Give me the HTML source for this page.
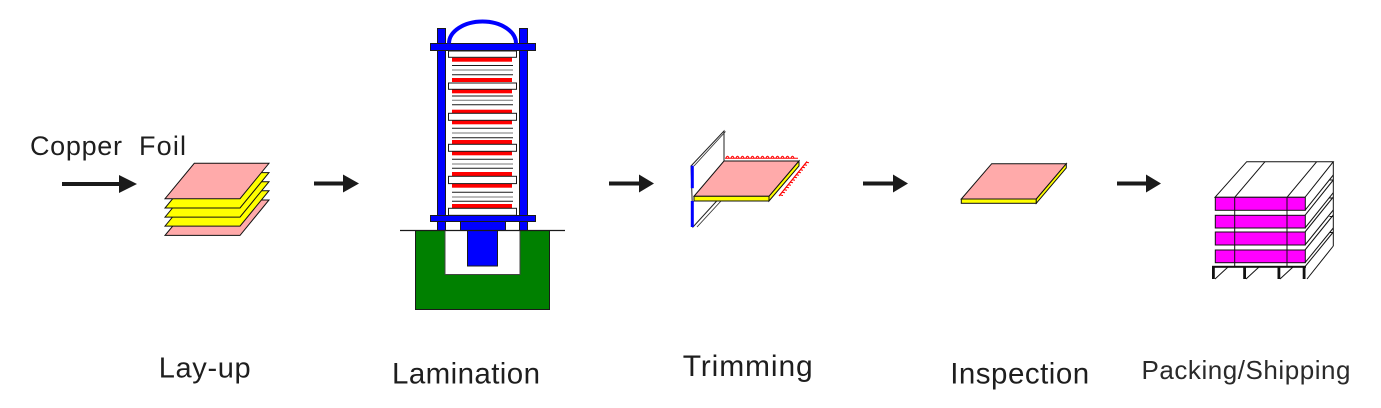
<!DOCTYPE html>
<html>
<head>
<meta charset="utf-8">
<style>
html,body{margin:0;padding:0;background:#fff;}
svg{display:block;}
text{font-family:"Liberation Sans", Arial, sans-serif;fill:#1e1e1e;}
</style>
</head>
<body>
<svg width="1381" height="408" viewBox="0 0 1381 408" xmlns="http://www.w3.org/2000/svg">
<rect width="1381" height="408" fill="#fff"/>

<!-- Copper Foil label -->
<text x="30" y="155" font-size="27" textLength="92" lengthAdjust="spacing">Copper</text>
<text x="139" y="155" font-size="27" textLength="47" lengthAdjust="spacing">Foil</text>

<!-- Arrows -->
<g fill="#1a1a1a">
  <rect x="62" y="182" width="58" height="4"/>
  <polygon points="119,175 137,184 119,193"/>
  <rect x="314" y="181.5" width="30" height="4"/>
  <polygon points="343,174.5 359,183.5 343,192.5"/>
  <rect x="609" y="181.5" width="31" height="4"/>
  <polygon points="639,174.5 654,183.5 639,192.5"/>
  <rect x="863" y="181.5" width="31" height="4"/>
  <polygon points="893,174.5 908,183.5 893,192.5"/>
  <rect x="1117" y="181.5" width="30" height="4"/>
  <polygon points="1146,174.5 1161,183.5 1146,192.5"/>
</g>

<!-- Lay-up stack -->
<g stroke="#111" stroke-width="1" stroke-linejoin="miter">
  <polygon points="194.3,200 269,200 240,235.4 165,235.4" fill="#FFAAAA"/>
  <polygon points="194.3,190.7 269,190.7 240,226.1 165,226.1" fill="#FFFF00"/>
  <polygon points="194.3,181.7 269,181.7 240,217.1 165,217.1" fill="#FFFF00"/>
  <polygon points="194.3,172.6 269,172.6 240,208 165,208" fill="#FFFF00"/>
  <polygon points="194.3,163.3 269,163.3 240,198.7 165,198.7" fill="#FFAAAA"/>
</g>

<!-- Lamination press -->
<g stroke="#1a1a1a" stroke-width="1">
  <rect x="415.5" y="230.5" width="134" height="79" fill="#008000"/>
  <rect x="445" y="230.5" width="75" height="44" fill="#fff" stroke="#444"/>
  <rect x="467.5" y="230.5" width="30" height="35.5" fill="#0000FF"/>
  <rect x="437.5" y="28.5" width="8" height="202" fill="#0000FF"/>
  <rect x="519.5" y="28.5" width="8" height="202" fill="#0000FF"/>
  <rect x="430.5" y="43.5" width="105" height="7" fill="#0000FF"/>
  <rect x="430.5" y="215.5" width="105" height="6" fill="#0000FF"/>
  <rect x="460.5" y="221.5" width="45" height="9" fill="#0000FF"/>
</g>
<path d="M449,43.5 A33.5,22 0 0 1 516,43.5" fill="none" stroke="#0000FF" stroke-width="4"/>
<line x1="400" y1="230.5" x2="565" y2="230.5" stroke="#1a1a1a" stroke-width="1.2"/>

<g fill="#FF0000">
  <rect x="452" y="57.7" width="60" height="4"/>
  <rect x="452" y="78" width="60" height="4"/>
  <rect x="452" y="89.3" width="60" height="4"/>
  <rect x="452" y="109.7" width="60" height="3.5"/>
  <rect x="452" y="120.3" width="60" height="4"/>
  <rect x="452" y="140" width="60" height="4"/>
  <rect x="452" y="151.3" width="60" height="4"/>
  <rect x="452" y="172" width="60" height="4"/>
  <rect x="452" y="183.7" width="60" height="4"/>
  <rect x="452" y="204" width="60" height="4"/>
</g>
<g stroke="#1a1a1a" stroke-width="1">
  <line x1="452" y1="65.5" x2="513" y2="65.5"/>
  <line x1="452" y1="70" x2="513" y2="70" stroke="#777"/>
  <line x1="452" y1="74.7" x2="513" y2="74.7"/>
  <line x1="452" y1="96" x2="513" y2="96"/>
  <line x1="452" y1="100.3" x2="513" y2="100.3" stroke="#777"/>
  <line x1="452" y1="104.7" x2="513" y2="104.7"/>
  <line x1="452" y1="128.3" x2="513" y2="128.3"/>
  <line x1="452" y1="133" x2="513" y2="133" stroke="#777"/>
  <line x1="452" y1="137.7" x2="513" y2="137.7"/>
  <line x1="452" y1="159.3" x2="513" y2="159.3"/>
  <line x1="452" y1="164" x2="513" y2="164" stroke="#777"/>
  <line x1="452" y1="168.3" x2="513" y2="168.3"/>
  <line x1="452" y1="192.3" x2="513" y2="192.3"/>
  <line x1="452" y1="197" x2="513" y2="197" stroke="#777"/>
  <line x1="452" y1="201.3" x2="513" y2="201.3"/>
</g>
<g fill="#fff" stroke="#1a1a1a" stroke-width="1">
  <rect x="448.5" y="51" width="68" height="6.3"/>
  <rect x="448.5" y="83" width="68" height="6.3"/>
  <rect x="448.5" y="113.3" width="68" height="7"/>
  <rect x="448.5" y="144.3" width="68" height="7"/>
  <rect x="448.5" y="176.3" width="68" height="7.3"/>
  <rect x="448.5" y="208.3" width="68" height="7"/>
</g>

<!-- Trimming -->
<g>
  <polygon points="691,166 724,131 724,193 693,227" fill="#fff" stroke="#222" stroke-width="1"/>
  <line x1="694" y1="166" x2="725.5" y2="131.5" stroke="#333" stroke-width="0.9"/>
  <line x1="697" y1="227" x2="721" y2="201" stroke="#333" stroke-width="0.9"/>
  <rect x="690.8" y="165.7" width="3" height="22.5" fill="#0000FF"/>
  <rect x="690.8" y="201" width="3" height="26" fill="#0000FF"/>
  <line x1="725" y1="158.3" x2="798" y2="158.3" stroke="#FF0000" stroke-width="1"/>
  <path d="M726,158 q1.5,-3.5 3,0 M731,158 q1.5,-3.5 3,0 M736,158 q1.5,-3.5 3,0 M741,158 q1.5,-3.5 3,0 M746,158 q1.5,-3.5 3,0 M751,158 q1.5,-3.5 3,0 M756,158 q1.5,-3.5 3,0 M761,158 q1.5,-3.5 3,0 M766,158 q1.5,-3.5 3,0 M771,158 q1.5,-3.5 3,0 M776,158 q1.5,-3.5 3,0 M781,158 q1.5,-3.5 3,0 M786,158 q1.5,-3.5 3,0 M791,158 q1.5,-3.5 3,0" fill="none" stroke="#FF0000" stroke-width="1"/>
  <line x1="779" y1="196" x2="807" y2="161.5" stroke="#FF0000" stroke-width="1.2"/>
  <path d="M780,195 l3,0.5 M782,192.3 l3,0.5 M784,189.8 l3,0.5 M786,187.3 l3,0.5 M788,184.8 l3,0.5 M790,182.3 l3,0.5 M792,179.8 l3,0.5 M794,177.3 l3,0.5 M796,174.8 l3,0.5 M798,172.3 l3,0.5 M800,169.8 l3,0.5 M802,167.3 l3,0.5 M804,164.8 l3,0.5 M806,162.3 l3,0.5" fill="none" stroke="#FF0000" stroke-width="1"/>
  <polygon points="724,161 799,161 769,196.3 694,196.3" fill="#FFAAAA" stroke="#111" stroke-width="1"/>
  <rect x="694" y="196.3" width="75" height="4.7" fill="#FFFF00" stroke="#111" stroke-width="1"/>
  <polygon points="769,196.3 799,161 799,166 769,201" fill="#FFFF00" stroke="#111" stroke-width="1"/>
</g>

<!-- Inspection board -->
<g stroke="#111" stroke-width="1">
  <polygon points="991.7,163.7 1066.3,163.7 1036.3,199 961.3,199" fill="#FFAAAA"/>
  <rect x="961.3" y="199" width="75" height="4.3" fill="#FFFF00"/>
  <polygon points="1036.3,199 1066.3,163.7 1066.3,168 1036.3,203.3" fill="#FFFF00"/>
</g>

<!-- Packing / pallet -->
<g stroke="#111" stroke-width="1" fill="none">
  <polygon points="1215,197.3 1246.7,161.7 1333.3,161.7 1305,197.3" fill="#fff"/>
  <line x1="1234.7" y1="197.3" x2="1265" y2="161.7"/>
  <line x1="1287" y1="197.3" x2="1316.7" y2="161.7"/>
  <line x1="1305" y1="210.3" x2="1333.3" y2="175"/>
  <line x1="1305" y1="215.3" x2="1333.3" y2="180"/>
  <line x1="1305" y1="228" x2="1333.3" y2="192.7"/>
  <line x1="1305" y1="232" x2="1333.3" y2="197"/>
  <line x1="1305" y1="245" x2="1333.3" y2="210"/>
  <line x1="1305" y1="250" x2="1333.3" y2="215"/>
  <line x1="1305" y1="262.7" x2="1333.3" y2="228"/>
  <line x1="1305" y1="266.7" x2="1333.3" y2="232"/>
  <line x1="1307" y1="279" x2="1333.3" y2="246"/>
  <line x1="1333.3" y1="161.7" x2="1333.3" y2="246"/>
  <line x1="1329.5" y1="180" x2="1333.3" y2="180"/>
  <line x1="1329.5" y1="198" x2="1333.3" y2="198"/>
  <line x1="1329.5" y1="216.5" x2="1333.3" y2="216.5"/>
  <line x1="1329.5" y1="232.5" x2="1333.3" y2="232.5"/>
  <line x1="1215" y1="279" x2="1228" y2="267"/>
  <line x1="1246" y1="279" x2="1259" y2="267"/>
  <line x1="1280" y1="279" x2="1293" y2="267"/>
</g>
<g fill="#FF00FF" stroke="#111" stroke-width="1">
  <rect x="1215.3" y="197.3" width="90" height="13"/>
  <rect x="1215.3" y="215.3" width="90" height="12.7"/>
  <rect x="1215.3" y="232" width="90" height="13"/>
  <rect x="1215.3" y="250" width="90" height="12.7"/>
</g>
<g stroke="#111" stroke-width="1">
  <line x1="1234.7" y1="197.3" x2="1234.7" y2="266.7"/>
  <line x1="1287" y1="197.3" x2="1287" y2="266.7"/>
</g>
<g fill="#111">
  <rect x="1212" y="265.8" width="94" height="2"/>
  <rect x="1212" y="266" width="2.8" height="13"/>
  <rect x="1243.2" y="266" width="2.8" height="13"/>
  <rect x="1277.5" y="266" width="2.8" height="13"/>
  <rect x="1302.7" y="266" width="2.8" height="13"/>
</g>

<!-- Step labels -->
<text x="158.7" y="377.7" font-size="29" textLength="92" lengthAdjust="spacing">Lay-up</text>
<text x="392" y="383.3" font-size="29.5" textLength="148" lengthAdjust="spacing">Lamination</text>
<text x="682.7" y="376" font-size="30" textLength="130" lengthAdjust="spacing">Trimming</text>
<text x="950.2" y="383.3" font-size="29.5" textLength="139" lengthAdjust="spacing">Inspection</text>
<text x="1141.5" y="379" font-size="26" textLength="209" lengthAdjust="spacing" style="fill:#2a2a2a">Packing/Shipping</text>
</svg>
</body>
</html>
